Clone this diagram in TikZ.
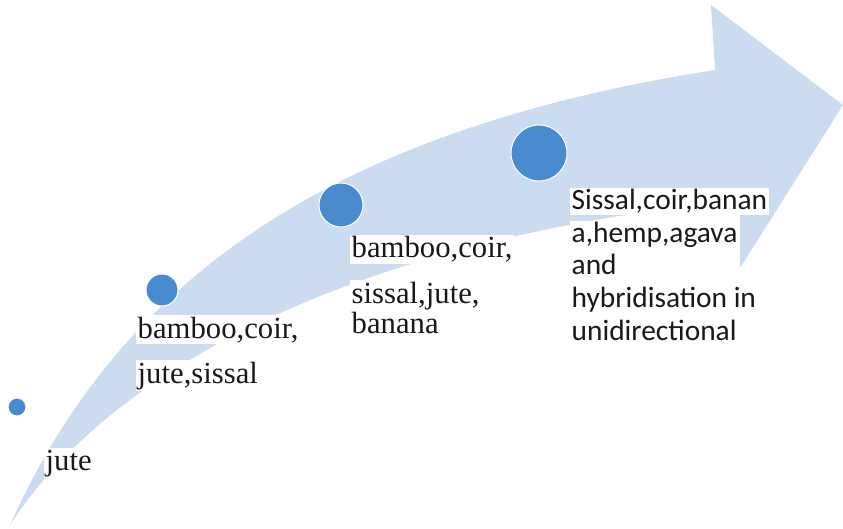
\documentclass[tikz,border=0pt]{standalone}
\usepackage{fontspec}
\setmainfont{Liberation Serif}
\newfontfamily\labelsans{Carlito}
\definecolor{arrowblue}{RGB}{204,220,240}
\definecolor{dotblue}{RGB}{72,140,207}
\definecolor{textdark}{RGB}{24,24,30}
\begin{document}
\begin{tikzpicture}[x=1pt,y=-1pt,
  band/.style={fill=arrowblue,draw=none},
  dot/.style={circle,fill=dotblue,draw=white,line width=1pt,inner sep=0pt},
  serifline/.style={anchor=base west,fill=white,inner sep=1.5pt,text=textdark,
    font=\fontsize{30.7}{32}\selectfont},
  sansline/.style={anchor=base west,fill=white,inner sep=1.5pt,text=textdark,
    font=\labelsans\fontsize{29.4}{32}\selectfont}]
\useasboundingbox (0,0) rectangle (843,529);

% curved upward arrow
\fill[band] (10,525) .. controls (120,280) and (330,130) .. (715,70)
  -- (711,5) -- (843,105) -- (740,268) -- (740,200)
  .. controls (350,240) and (110,370) .. (10,525) -- cycle;

% growing milestones
\node[dot,minimum size=18pt] (c1) at (17,407) {};
\node[dot,minimum size=32pt] (c2) at (162,290) {};
\node[dot,minimum size=44pt] (c3) at (341,205) {};
\node[dot,minimum size=56pt] (c4) at (539,153) {};

% labels
\node[serifline] (t1) at (44,470) {jute};

\node[serifline] (t2a) at (136,338) {bamboo,coir,};
\node[serifline] (t2b) at (136,383) {jute,sissal};

\node[serifline] (t3a) at (350,258) {bamboo,coir,};
\node[serifline] (t3b) at (350,303) {sissal,jute,};
\node[serifline] (t3c) at (350,333) {banana};

\node[sansline] (t4a) at (570,210) {Sissal,coir,banan};
\node[sansline] (t4b) at (570,243) {a,hemp,agava};
\node[sansline] (t4c) at (570,275) {and};
\node[sansline] (t4d) at (570,307) {hybridisation in};
\node[sansline] (t4e) at (570,340) {unidirectional};
\end{tikzpicture}
\end{document}
